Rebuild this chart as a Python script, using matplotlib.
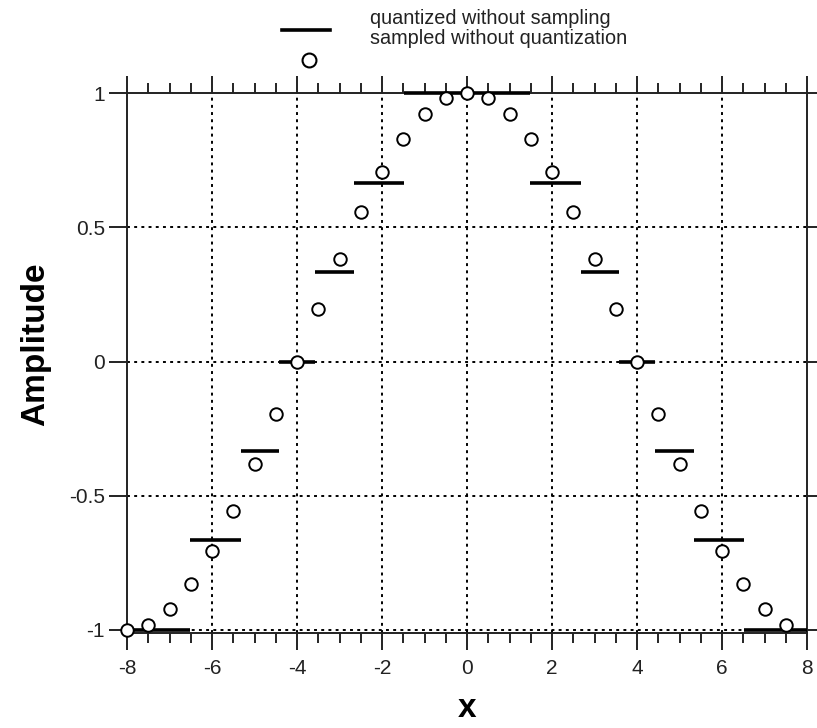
import matplotlib
matplotlib.use("Agg")
import matplotlib.pyplot as plt
from matplotlib.lines import Line2D
from matplotlib.ticker import MultipleLocator

plt.rcParams['font.family'] = ['Liberation Sans', 'DejaVu Sans']

# Samples of the signal (no quantization)
sample_x = [-8, -7.5, -7, -6.5, -6, -5.5, -5, -4.5, -4, -3.5, -3, -2.5, -2, -1.5,
            -1, -0.5, 0, 0.5, 1, 1.5, 2, 2.5, 3, 3.5, 4, 4.5, 5, 5.5, 6, 6.5, 7, 7.5]
sample_y = [-1.0, -0.981, -0.924, -0.831, -0.707, -0.556, -0.383, -0.195, 0.0,
            0.195, 0.383, 0.556, 0.707, 0.831, 0.924, 0.981, 1.0, 0.981, 0.924,
            0.831, 0.707, 0.556, 0.383, 0.195, 0.0, -0.195, -0.383, -0.556,
            -0.707, -0.831, -0.924, -0.981]

# Quantized signal (continuous x): level held between consecutive edges
step_edges = [-8, -6.51, -5.33, -4.43, -3.57, -2.67, -1.49, 1.49, 2.67, 3.57,
              4.43, 5.33, 6.51, 8]
step_levels = [-1.0, -0.667, -0.333, 0.0, 0.333, 0.667, 1.0, 0.667, 0.333, 0.0,
               -0.333, -0.667, -1.0]

x_ticks = [-8, -6, -4, -2, 0, 2, 4, 6, 8]
x_tick_labels = ['-8', '-6', '-4', '-2', '0', '2', '4', '6', '8']
y_ticks = [-1, -0.5, 0, 0.5, 1]
y_tick_labels = ['-1', '-0.5', '0', '0.5', '1']

fig = plt.figure(figsize=(8.17, 7.28), dpi=100)
ax = fig.add_axes([0.1555, 0.1305, 0.8323, 0.7413])

# dotted grid
grid_style = dict(color='black', linewidth=1.4, linestyle=(0, (1.5, 2.2)), zorder=1)
for gx in x_ticks[1:-1]:
    ax.axvline(gx, **grid_style)
for gy in [-1, -0.5, 0, 0.5]:
    ax.axhline(gy, **grid_style)

ax.hlines(step_levels, step_edges[:-1], step_edges[1:], color='black',
          linewidth=2.6, zorder=3, clip_on=False)
ax.plot(sample_x, sample_y, linestyle='none', marker='o', markersize=9,
        markerfacecolor='white', markeredgecolor='black', markeredgewidth=1.4,
        zorder=4, clip_on=False)

ax.set_xlim(-8, 8)
ax.set_ylim(-1.012, 1.0)
ax.set_xticks(x_ticks)
ax.set_xticklabels(x_tick_labels)
ax.set_yticks(y_ticks)
ax.set_yticklabels(y_tick_labels)
ax.xaxis.set_minor_locator(MultipleLocator(0.5))

for s in ax.spines.values():
    s.set_linewidth(1.4)
    s.set_color('#222222')

ax.tick_params(axis='x', which='major', direction='out', length=12, width=1.4,
               top=True, bottom=True, labelsize=15, pad=7, colors='#222222')
ax.tick_params(axis='x', which='minor', direction='out', length=7, width=1.2,
               top=True, bottom=True)
ax.tick_params(axis='y', which='major', direction='out', length=13, width=1.4,
               left=True, right=True, labelsize=15, pad=3, colors='#222222')
for t in ax.yaxis.get_major_ticks():
    t.tick2line.set_markersize(9)

ax.set_xlabel('x', fontsize=24, fontweight='bold')
ax.xaxis.set_label_coords(0.5, -0.112)
ax.set_ylabel('Amplitude', fontsize=24, fontweight='bold')
ax.yaxis.set_label_coords(-0.112, 0.535)

# legend drawn in figure coordinates
W, H = 817.0, 728.0
fig.add_artist(Line2D([282 / W, 330 / W], [1 - 30 / H, 1 - 30 / H], color='black',
                      linewidth=2.6, transform=fig.transFigure))
fig.add_artist(Line2D([309 / W], [1 - 60 / H], linestyle='none', marker='o',
                      markersize=10, markerfacecolor='white', markeredgecolor='black',
                      markeredgewidth=1.5, transform=fig.transFigure))
fig.text(370 / W, 1 - 18 / H, 'quantized without sampling', fontsize=14.3,
         va='center', ha='left', color='#222222')
fig.text(370 / W, 1 - 38 / H, 'sampled without quantization', fontsize=14.3,
         va='center', ha='left', color='#222222')

fig.savefig('out.png', dpi=100)
